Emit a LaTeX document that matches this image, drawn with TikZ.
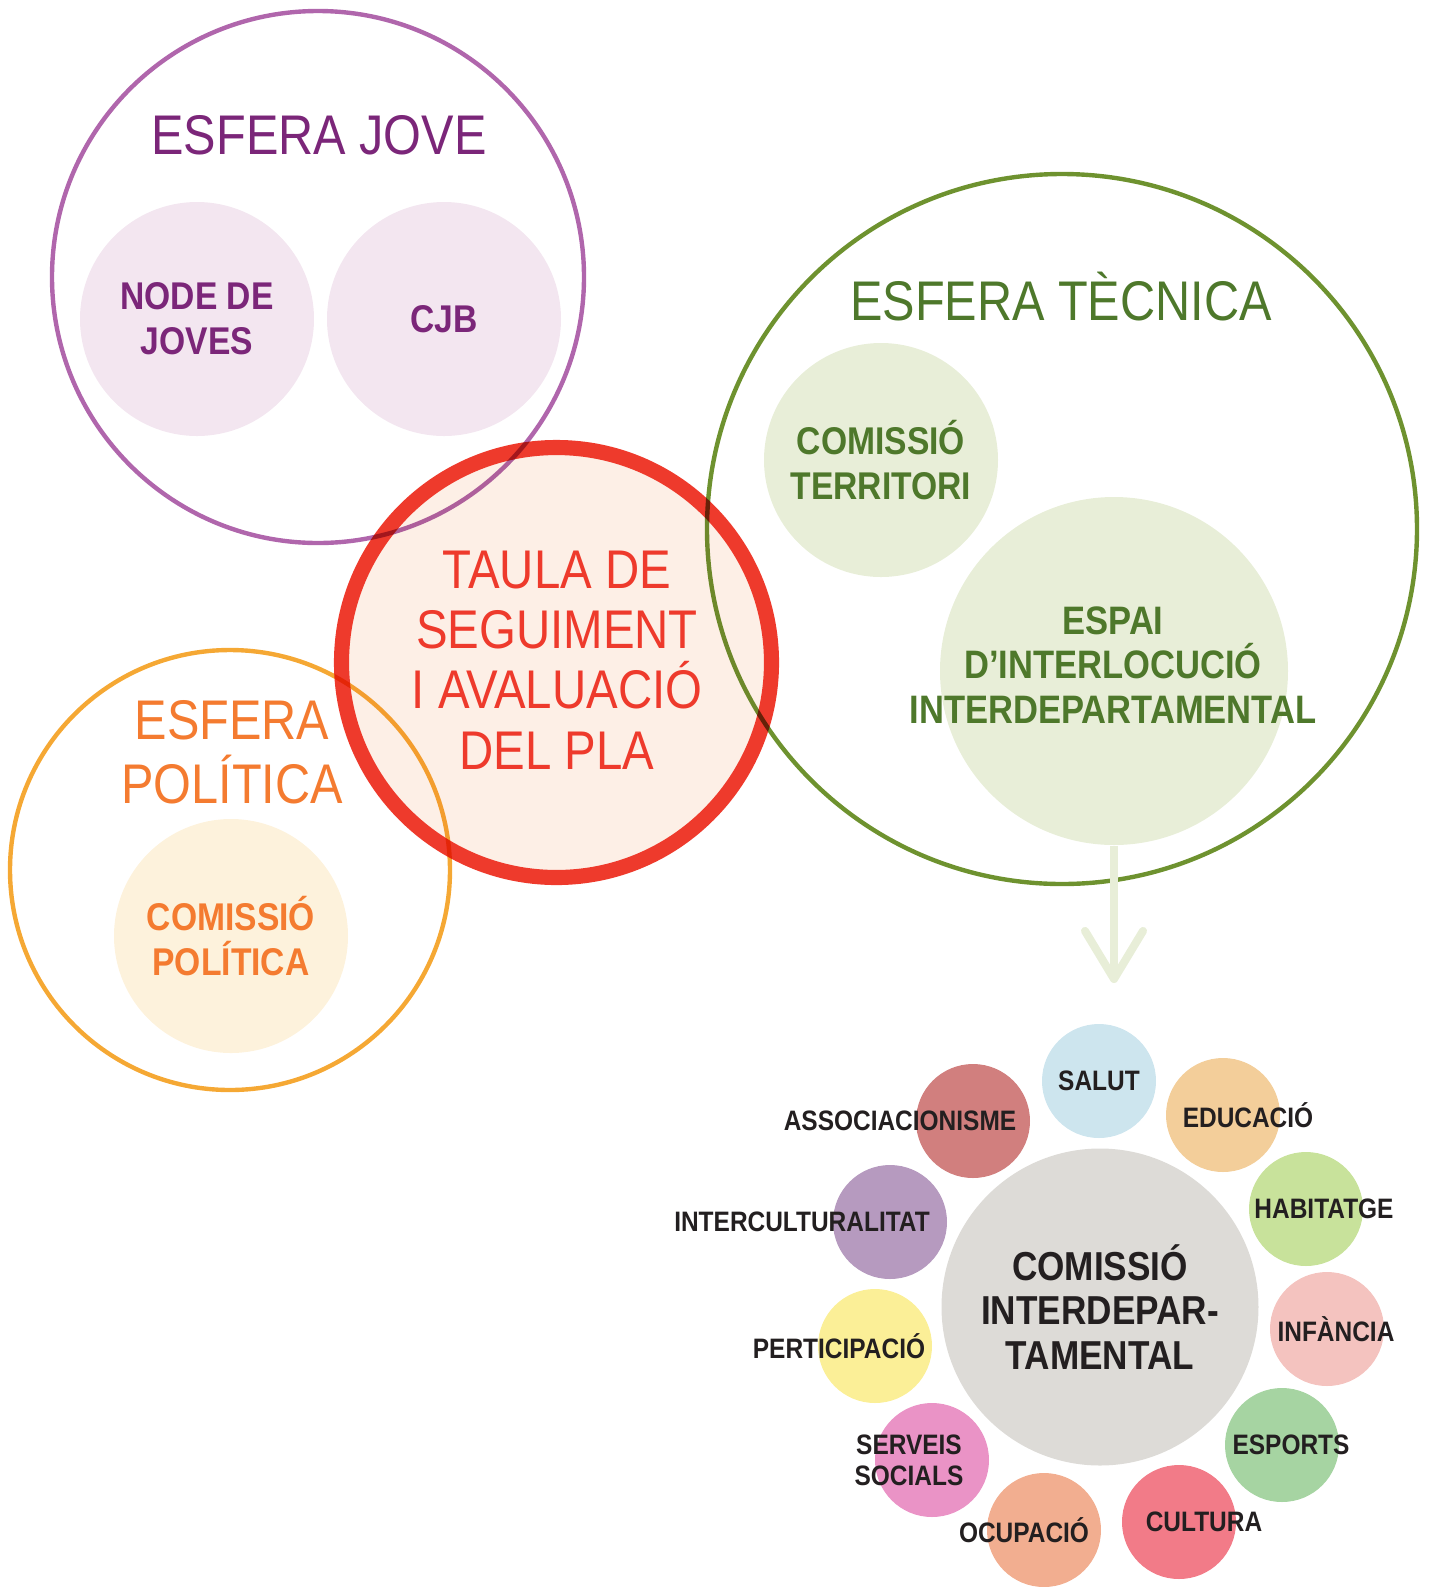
\documentclass[tikz,border=0pt]{standalone}
\usepackage{fontspec}
\setmainfont{Liberation Sans}[FakeStretch=0.87]
\usetikzlibrary{arrows.meta}

\definecolor{joveline}{HTML}{B066AC}
\definecolor{jovetext}{HTML}{7B2679}
\definecolor{jovefill}{HTML}{F3E6F0}
\definecolor{tecline}{HTML}{6E922F}
\definecolor{tectext}{HTML}{4E782B}
\definecolor{tecfill}{HTML}{E8EED8}
\definecolor{polline}{HTML}{F5A834}
\definecolor{poltext}{HTML}{F47B30}
\definecolor{polfill}{HTML}{FDF2DC}
\definecolor{taularing}{HTML}{EE3A2C}
\definecolor{taulafill}{HTML}{FDEFE6}
\definecolor{cidfill}{HTML}{DDDBD7}
\definecolor{labeltext}{HTML}{231F20}
\definecolor{salutfill}{HTML}{CDE5EE}
\definecolor{educfill}{HTML}{F3CE9A}
\definecolor{habfill}{HTML}{C8E29B}
\definecolor{inffill}{HTML}{F4C3BF}
\definecolor{espfill}{HTML}{A6D4A2}
\definecolor{cultfill}{HTML}{F27B88}
\definecolor{ocupfill}{HTML}{F2AE90}
\definecolor{servfill}{HTML}{EA93C6}
\definecolor{partfill}{HTML}{FBEF97}
\definecolor{intfill}{HTML}{B69ABF}
\definecolor{assocfill}{HTML}{D17F7E}

\tikzset{
  sphere/.style={draw, circle, line width=1.25pt, inner sep=0pt},
  spheretitle/.style={font=\fontsize{15.9}{17.2}\selectfont, align=center, inner sep=0pt},
  bubble/.style={circle, inner sep=0pt, minimum size=2.34cm, align=center,
    font=\bfseries\fontsize{11}{12.7}\selectfont},
  dept/.style={circle, inner sep=0pt, minimum size=1.14cm},
  deptlabel/.style={font=\bfseries\fontsize{8}{8.8}\selectfont, text=labeltext, align=center, inner sep=0pt},
  flowarrow/.style={draw=tecfill, line width=2.3pt, -{Straight Barb[length=4.8mm, width=5.8mm, round]}}
}

\begin{document}
\begin{tikzpicture}
	\useasboundingbox (0,0) rectangle (14.33,-15.87);

	% taula de seguiment
	\node[circle, draw=taularing, fill=taulafill, line width=4.3pt, inner sep=0pt, minimum size=4.30cm] (taula) at (5.565,-6.625) {};

	% esferes
	\begin{scope}[blend mode=multiply]
		\node[sphere, draw=joveline, minimum size=5.32cm] (jove) at (3.18,-2.77) {};
		\node[sphere, draw=tecline, minimum size=7.10cm] (tecnica) at (10.62,-5.29) {};
		\node[sphere, draw=polline, minimum size=4.40cm] (politica) at (2.30,-8.70) {};
	\end{scope}

	\node[spheretitle, text=taularing, font=\fontsize{15.5}{17.2}\selectfont] (taula-txt) at (5.57,-6.60) {TAULA DE\\SEGUIMENT\\I AVALUACIÓ\\DEL PLA};
	\node[spheretitle, text=jovetext, anchor=base] (jove-title) at (3.19,-1.54) {ESFERA JOVE};
	\node[spheretitle, text=tectext, anchor=base] (tecnica-title) at (10.61,-3.20) {ESFERA TÈCNICA};
	\node[spheretitle, text=poltext, font=\fontsize{15.9}{18.2}\selectfont] (politica-title) at (2.32,-7.525) {ESFERA\\POLÍTICA};

	% bombolles
	\node[bubble, fill=jovefill, text=jovetext] (nodejoves) at (1.97,-3.19) {NODE DE\\JOVES};
	\node[bubble, fill=jovefill, text=jovetext] (cjb) at (4.44,-3.19) {CJB};
	\node[bubble, fill=tecfill, text=tectext] (territori) at (8.81,-4.60) {COMISSIÓ\\TERRITORI};
	\node[bubble, fill=polfill, text=poltext] (compol) at (2.31,-9.36) {COMISSIÓ\\POLÍTICA};
	\node[bubble, fill=tecfill, minimum size=3.48cm] (espai) at (11.14,-6.71) {};
	\node[align=center, inner sep=0pt, text=tectext, font=\bfseries\fontsize{11.3}{12.7}\selectfont] (espai-txt) at (11.13,-6.65) {ESPAI\\D’INTERLOCUCIÓ\\INTERDEPARTAMENTAL};

	\coordinate (arrowtip) at (11.14,-9.83);
	\draw[flowarrow] (espai.south) -- (arrowtip);

	% comissio interdepartamental
	\node[circle, fill=cidfill, inner sep=0pt, minimum size=3.17cm, align=center, text=labeltext,
		font=\bfseries\fontsize{11.5}{12.7}\selectfont] (cid) at (11.00,-13.07) {COMISSIÓ\\INTERDEPAR-\\TAMENTAL};

	\foreach \name/\x/\y/\col/\dx/\txt in {
			salut/10.99/-10.81/salutfill/0/SALUT,
			educacio/12.23/-11.15/educfill/0.25/EDUCACIÓ,
			habitatge/13.06/-12.09/habfill/0.18/HABITATGE,
			infancia/13.27/-13.29/inffill/0.09/INFÀNCIA,
			esports/12.82/-14.45/espfill/0.09/ESPORTS,
			cultura/11.79/-15.22/cultfill/0.25/CULTURA,
			ocupacio/10.44/-15.30/ocupfill/-0.20/OCUPACIÓ,
			serveis/9.32/-14.60/servfill/-0.23/{SERVEIS\\SOCIALS},
			participacio/8.75/-13.46/partfill/-0.36/PERTICIPACIÓ,
			intercult/8.90/-12.22/intfill/-0.88/INTERCULTURALITAT,
			associa/9.73/-11.21/assocfill/-0.73/ASSOCIACIONISME} {
		\node[dept, fill=\col] (\name) at (\x,\y) {};
		\node[deptlabel] (\name-lbl) at ([xshift=\dx cm]\name.center) {\txt};
	}
\end{tikzpicture}
\end{document}
